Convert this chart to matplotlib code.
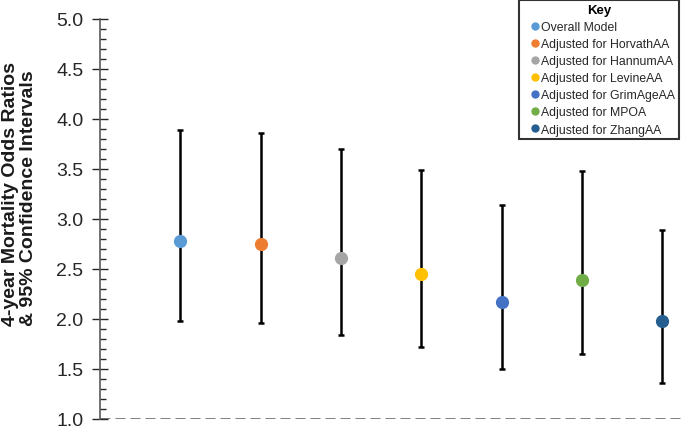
import matplotlib
matplotlib.use("Agg")
import matplotlib.pyplot as plt
from matplotlib.lines import Line2D
from matplotlib.ticker import MultipleLocator

plt.rcParams['font.family'] = ['Liberation Sans', 'DejaVu Sans']

labels = ["Overall Model", "Adjusted for HorvathAA", "Adjusted for HannumAA",
          "Adjusted for LevineAA", "Adjusted for GrimAgeAA", "Adjusted for MPOA",
          "Adjusted for ZhangAA"]
odds = [2.78, 2.75, 2.61, 2.45, 2.17, 2.39, 1.98]
lower = [1.98, 1.96, 1.84, 1.72, 1.50, 1.65, 1.36]
upper = [3.89, 3.86, 3.70, 3.49, 3.14, 3.48, 2.89]
colors = ["#5B9BD5", "#ED7D31", "#A5A5A5", "#FFC000", "#4472C4", "#70AD47", "#255E91"]
positions = [1, 2, 3, 4, 5, 6, 7]

fig = plt.figure(figsize=(6.84, 4.27), dpi=100)
ax = fig.add_axes([100/684, 1-420/427, 584/684, 400/427])

for x, o, lo, hi, c in zip(positions, odds, lower, upper, colors):
    ax.errorbar(x, o, yerr=[[o-lo], [hi-o]], fmt='none', ecolor='black',
                elinewidth=1.8, capsize=2.5, capthick=1.8, zorder=2)
    ax.plot(x, o, 'o', color=c, markersize=8.5, zorder=3)

ax.axhline(1.0, color='#595959', linestyle=(0, (4, 2)), linewidth=1.8, zorder=1)

ax.set_xlim(0, 7.27)
ax.set_ylim(1.0, 5.0)
ax.yaxis.set_major_locator(MultipleLocator(0.5))
ax.yaxis.set_minor_locator(MultipleLocator(0.1))
ax.yaxis.set_major_formatter(matplotlib.ticker.FormatStrFormatter('%.1f'))
ax.tick_params(axis='y', which='major', direction='inout', length=12, width=1,
               labelsize=14, colors='#262626', pad=6)
ax.tick_params(axis='y', which='minor', direction='in', length=4, width=1, colors='#262626')
ax.set_xticks([])
for s in ['top', 'right', 'bottom']:
    ax.spines[s].set_visible(False)
ax.spines['left'].set_color('#595959')
ax.spines['left'].set_linewidth(1.2)

fig.text(2/684, 1 - 326/427, "4-year Mortality Odds Ratios\n& 95% Confidence Intervals",
         rotation=90, ha='left', va='bottom', multialignment='left',
         fontsize=14, fontweight='bold', linespacing=1.05, color='#1a1a1a')

handles = [Line2D([], [], marker='o', linestyle='none', color=c, markersize=5)
           for c in colors]
leg = fig.legend(handles, labels, loc='upper right',
                 bbox_to_anchor=(679/684, 1 - 1/427), title="Key",
                 fontsize=8.8, frameon=True, fancybox=False, handlelength=2.0,
                 handletextpad=-0.5, labelspacing=0.42, borderpad=0.3,
                 borderaxespad=0)
leg.get_title().set_fontweight('bold')
leg.get_title().set_fontsize(9.5)
leg.get_frame().set_edgecolor('black')
leg.get_frame().set_linewidth(1.5)
for t in leg.get_texts():
    t.set_color('#262626')

fig.savefig("out.png", dpi=100)
